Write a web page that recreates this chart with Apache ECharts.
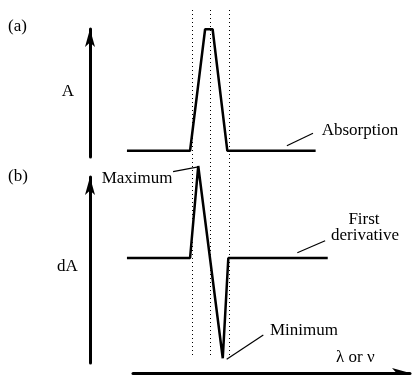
<!DOCTYPE html>
<html>
<head>
<meta charset="utf-8">
<script src="https://cdn.jsdelivr.net/npm/echarts@6/dist/echarts.min.js"></script>
<style>
  html, body { margin: 0; padding: 0; background: #fff; }
  #main { width: 417px; height: 375px; }
</style>
</head>
<body>
<div id="main"></div>
<script>
// (a) absorption band, x in arbitrary wavelength units 0..100
const absX = [11.3, 30.6, 35.2, 37.5, 42.0, 69.0]
const absY = [0.049, 0.049, 0.998, 0.998, 0.049, 0.049]
// (b) first derivative
const derX = [11.3, 30.6, 33.1, 40.6, 42.3, 72.7]
const derY = [0.129, 0.129, 1.118, -0.949, 0.129, 0.129]
// dotted guides through the band edges and centre
const guideX = [31.3, 36.9, 42.5]
// leader lines for the annotations
const absLeader = [[60.2, 0.088], [68.2, 0.185]]
const maxLeader = [[25.4, 1.057], [33.1, 1.108]]
const derLeader = [[63.4, 0.186], [71.9, 0.315]]
const minLeader = [[41.8, -0.960], [53.0, -0.699]]

const font = '17px "Liberation Serif", "DejaVu Serif", serif'

function zip(xs, ys) {
  return xs.map((x, i) => [x, ys[i]])
}

var myChart = echarts.init(document.getElementById('main'), null, { renderer: 'canvas' })

const arrowAxis = {
  show: true,
  onZero: false,
  symbol: ['none', 'arrow'],
  symbolSize: [7.5, 18],
  lineStyle: { color: '#000', width: 3 }
}
const hiddenX = { type: 'value', min: 0, max: 100, show: false }

function curve(name, data, xi, width) {
  return {
    name: name,
    type: 'line',
    xAxisIndex: xi,
    yAxisIndex: xi,
    data: data,
    symbol: 'none',
    clip: false,
    silent: true,
    lineStyle: { color: '#000', width: width }
  }
}

function label(text, x, y, align) {
  return {
    type: 'text',
    x: x,
    y: y,
    silent: true,
    style: { text: text, font: font, fill: '#000', align: align || 'left', verticalAlign: 'middle' }
  }
}

var option = {
  animation: false,
  backgroundColor: '#fff',
  grid: [
    { left: 90, top: 29, width: 327, height: 128 },   // (a)
    { left: 90, top: 177, width: 327, height: 186 },  // (b)
    { left: 133, top: 363, width: 277, height: 10 },  // lambda axis
    { left: 90, top: 10, width: 327, height: 345 }    // guides
  ],
  xAxis: [
    Object.assign({ gridIndex: 0 }, hiddenX),
    Object.assign({ gridIndex: 1 }, hiddenX),
    {
      gridIndex: 2, type: 'value', min: 0, max: 1,
      axisLine: arrowAxis, axisTick: { show: false }, axisLabel: { show: false }, splitLine: { show: false }
    },
    Object.assign({ gridIndex: 3 }, hiddenX)
  ],
  yAxis: [
    {
      gridIndex: 0, type: 'value', min: 0, max: 1,
      axisLine: arrowAxis, axisTick: { show: false }, axisLabel: { show: false }, splitLine: { show: false }
    },
    {
      gridIndex: 1, type: 'value', min: -1, max: 1,
      axisLine: arrowAxis, axisTick: { show: false }, axisLabel: { show: false }, splitLine: { show: false }
    },
    { gridIndex: 2, type: 'value', min: 0, max: 1, show: false },
    { gridIndex: 3, type: 'value', min: 0, max: 1, show: false }
  ],
  series: [
    {
      name: 'guides',
      type: 'line',
      xAxisIndex: 3,
      yAxisIndex: 3,
      data: [],
      silent: true,
      markLine: {
        silent: true,
        symbol: 'none',
        label: { show: false },
        lineStyle: { color: '#000', width: 1, type: [1, 3] },
        data: guideX.map(v => ({ xAxis: v }))
      }
    },
    curve('Absorption', zip(absX, absY), 0, 2.5),
    curve('First derivative', zip(derX, derY), 1, 2.5),
    curve('absLeader', absLeader, 0, 1.2),
    curve('maxLeader', maxLeader, 1, 1.2),
    curve('derLeader', derLeader, 1, 1.2),
    curve('minLeader', minLeader, 1, 1.2)
  ],
  graphic: [
    label('(a)', 8, 27),
    label('(b)', 8, 177),
    label('A', 68, 92, 'center'),
    label('dA', 67.5, 267, 'center'),
    label('Absorption', 321.7, 130.7),
    label('Maximum', 101.7, 179),
    label('First', 364, 220, 'center'),
    label('derivative', 365, 236, 'center'),
    label('Minimum', 270, 331),
    label('λ or ν', 336, 358)
  ]
}
myChart.setOption(option)
</script>
</body>
</html>
